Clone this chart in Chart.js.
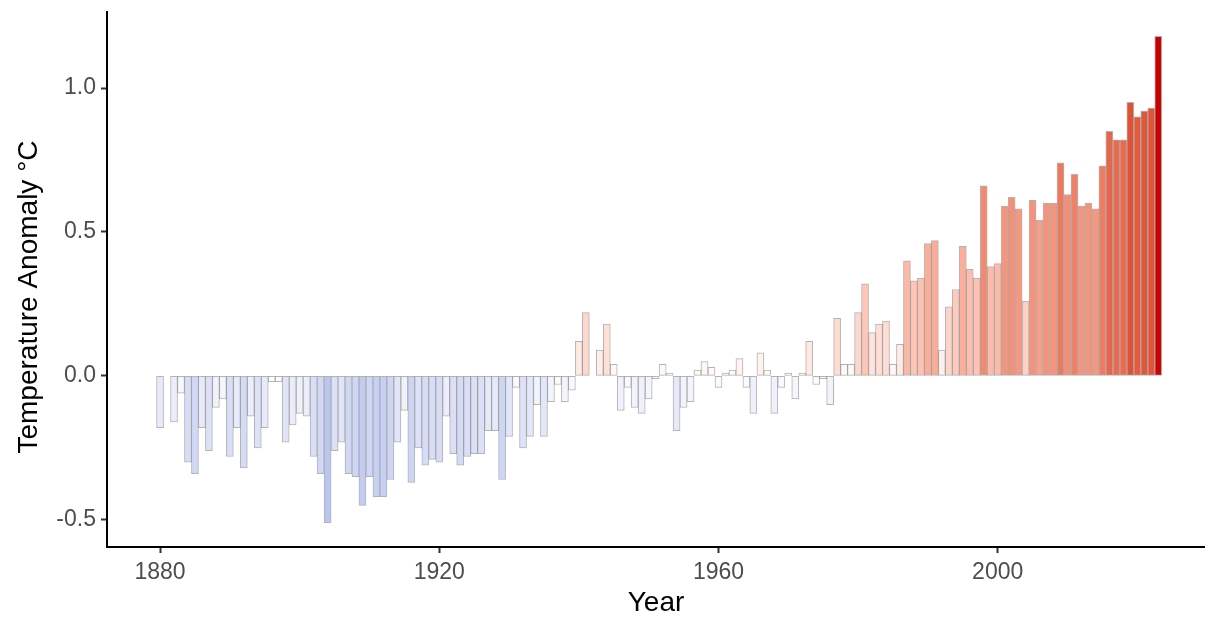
<!DOCTYPE html>
<html>
<head>
<meta charset="utf-8">
<script src="https://cdn.jsdelivr.net/npm/chart.js@4.4.1/dist/chart.umd.min.js"></script>
<style>
  html, body { margin: 0; padding: 0; background: #fff; }
  #wrap { width: 1205px; height: 617px; }
</style>
</head>
<body>
<div id="wrap"><canvas id="anomaly-chart" width="1205" height="617"></canvas></div>
<script>
// Global temperature anomaly, one bar per year starting 1880
const firstYear = 1880;
const anomalies = [
  -0.18, 0.00, -0.16, -0.06, -0.30, -0.34, -0.18, -0.26, -0.11, -0.08,  // 1880s
  -0.28, -0.18, -0.32, -0.14, -0.25, -0.18, -0.02, -0.02, -0.23, -0.17, // 1890s
  -0.13, -0.14, -0.28, -0.34, -0.51, -0.26, -0.23, -0.34, -0.35, -0.45, // 1900s
  -0.35, -0.42, -0.42, -0.36, -0.23, -0.12, -0.37, -0.25, -0.31, -0.29, // 1910s
  -0.30, -0.14, -0.27, -0.31, -0.28, -0.27, -0.27, -0.19, -0.19, -0.36, // 1920s
  -0.21, -0.04, -0.25, -0.21, -0.10, -0.21, -0.09, -0.03, -0.09, -0.05, // 1930s
  0.12, 0.22, 0.00, 0.09, 0.18, 0.04, -0.12, -0.04, -0.11, -0.13,       // 1940s
  -0.08, -0.01, 0.04, 0.01, -0.19, -0.11, -0.09, 0.02, 0.05, 0.03,      // 1950s
  -0.04, 0.01, 0.02, 0.06, -0.04, -0.13, 0.08, 0.02, -0.13, -0.04,      // 1960s
  0.01, -0.08, 0.01, 0.12, -0.03, -0.01, -0.10, 0.20, 0.04, 0.04,       // 1970s
  0.22, 0.32, 0.15, 0.18, 0.19, 0.04, 0.11, 0.40, 0.33, 0.34,           // 1980s
  0.46, 0.47, 0.09, 0.24, 0.30, 0.45, 0.37, 0.34, 0.66, 0.38,           // 1990s
  0.39, 0.59, 0.62, 0.58, 0.26, 0.61, 0.54, 0.60, 0.60, 0.74,           // 2000s
  0.63, 0.70, 0.59, 0.60, 0.58, 0.73, 0.85, 0.82, 0.82, 0.95,           // 2010s
  0.90, 0.92, 0.93, 1.18                                                // 2020s
];
const years = anomalies.map((_, i) => firstYear + i);
const xTicks = [1880, 1920, 1960, 2000];
const yTicks = [-0.5, 0.0, 0.5, 1.0];

// diverging fill: white at 0, blue below, red above (interpolated in Lab)
const lowColor = [72, 128, 222];
const midColor = [255, 255, 255];
const highColor = [205, 0, 0];

function toLinear(c) { c /= 255; return c <= 0.04045 ? c / 12.92 : Math.pow((c + 0.055) / 1.055, 2.4); }
function fromLinear(c) { c = c <= 0.0031308 ? 12.92 * c : 1.055 * Math.pow(c, 1 / 2.4) - 0.055; return Math.max(0, Math.min(255, Math.round(c * 255))); }
function rgbToLab(rgb) {
  const [r, g, b] = rgb.map(toLinear);
  let x = (r * 0.4124 + g * 0.3576 + b * 0.1805) / 0.95047;
  let y = (r * 0.2126 + g * 0.7152 + b * 0.0722);
  let z = (r * 0.0193 + g * 0.1192 + b * 0.9505) / 1.08883;
  const f = t => t > 0.008856 ? Math.cbrt(t) : 7.787 * t + 16 / 116;
  x = f(x); y = f(y); z = f(z);
  return [116 * y - 16, 500 * (x - y), 200 * (y - z)];
}
function labToRgb(lab) {
  const fy = (lab[0] + 16) / 116, fx = fy + lab[1] / 500, fz = fy - lab[2] / 200;
  const inv = t => t * t * t > 0.008856 ? t * t * t : (t - 16 / 116) / 7.787;
  const x = inv(fx) * 0.95047, y = inv(fy), z = inv(fz) * 1.08883;
  const r = x * 3.2406 - y * 1.5372 - z * 0.4986;
  const g = -x * 0.9689 + y * 1.8758 + z * 0.0415;
  const b = x * 0.0557 - y * 0.2040 + z * 1.0570;
  return [fromLinear(r), fromLinear(g), fromLinear(b)];
}
const labLow = rgbToLab(lowColor), labMid = rgbToLab(midColor), labHigh = rgbToLab(highColor);
const maxAbs = Math.max(...anomalies.map(Math.abs));

function fillFor(v) {
  const t = Math.min(1, Math.abs(v) / maxAbs);
  const end = v < 0 ? labLow : labHigh;
  const lab = labMid.map((m, k) => m + (end[k] - m) * t);
  const c = labToRgb(lab);
  return `rgb(${c[0]},${c[1]},${c[2]})`;
}

const fontFamily = "'Liberation Sans', Arial, Helvetica, sans-serif";

// y title drawn by hand so it sits where the original puts it
const yTitlePlugin = {
  id: 'yTitle',
  afterDraw(chart) {
    const ctx = chart.ctx;
    ctx.save();
    ctx.translate(29, 297);
    ctx.rotate(-Math.PI / 2);
    ctx.font = `28px ${fontFamily}`;
    ctx.fillStyle = '#000';
    ctx.textAlign = 'center';
    ctx.textBaseline = 'middle';
    ctx.fillText('Temperature Anomaly °C', 0, 0);
    ctx.restore();
  }
};

new Chart(document.getElementById('anomaly-chart').getContext('2d'), {
  type: 'bar',
  data: {
    datasets: [{
      data: years.map((yr, i) => ({ x: yr, y: anomalies[i] })),
      backgroundColor: anomalies.map(fillFor),
      borderColor: 'rgba(105,105,105,0.5)',
      borderWidth: 1,
      borderSkipped: false,
      barThickness: 7
    }]
  },
  plugins: [yTitlePlugin],
  options: {
    responsive: false,
    animation: false,
    layout: { padding: { top: 8, right: 0, bottom: 0, left: 0 }, autoPadding: false },
    plugins: {
      legend: { display: false },
      tooltip: { enabled: false }
    },
    scales: {
      x: {
        type: 'linear',
        min: 1872.4,
        max: 2029.7,
        offset: false,
        afterBuildTicks: scale => { scale.ticks = xTicks.map(v => ({ value: v })); },
        afterFit: scale => { scale.height = 70; },
        border: { display: true, color: '#000', width: 2 },
        grid: { offset: false, drawOnChartArea: false, drawTicks: true, tickLength: 6, tickColor: '#333', tickWidth: 2, color: 'transparent' },
        ticks: {
          autoSkip: false, maxRotation: 0, padding: 6,
          color: '#4d4d4d', font: { family: fontFamily, size: 23 },
          callback: v => String(v)
        },
        title: {
          display: true, text: 'Year', color: '#000',
          font: { family: fontFamily, size: 28, lineHeight: 1.0 },
          padding: { top: 0, bottom: 0 }
        }
      },
      y: {
        min: -0.5945,
        max: 1.2645,
        afterBuildTicks: scale => { scale.ticks = yTicks.map(v => ({ value: v })); },
        afterFit: scale => { scale.width = 107; },
        border: { display: true, color: '#000', width: 2 },
        grid: { offset: false, drawOnChartArea: false, drawTicks: true, tickLength: 6, tickColor: '#333', tickWidth: 2, color: 'transparent' },
        ticks: {
          padding: 5,
          color: '#4d4d4d', font: { family: fontFamily, size: 23, lineHeight: 0.6 },
          callback: v => v.toFixed(1)
        },
        title: { display: false }
      }
    }
  }
});
</script>
</body>
</html>
